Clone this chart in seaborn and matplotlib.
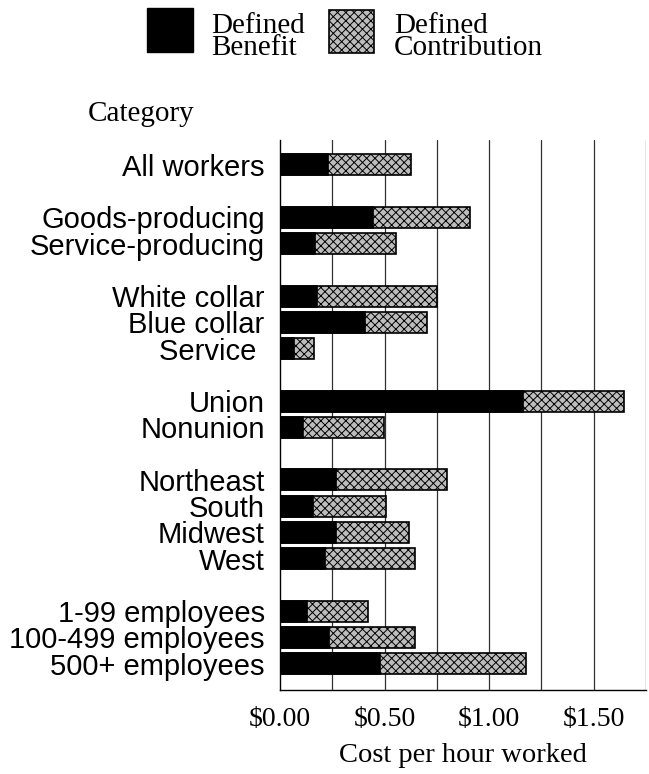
import numpy as np
import pandas as pd
import matplotlib
matplotlib.use("Agg")
import matplotlib.pyplot as plt
from matplotlib.patches import Rectangle
import seaborn as sns

# ---------------- data ----------------
categories = ["All workers",
              "Goods-producing", "Service-producing",
              "White collar", "Blue collar", "Service ",
              "Union", "Nonunion",
              "Northeast", "South", "Midwest", "West",
              "1-99 employees", "100-499 employees", "500+ employees"]
group_sizes = [1, 2, 3, 2, 4, 3]
defined_benefit = [0.23, 0.445, 0.165, 0.177, 0.405, 0.065, 1.163, 0.11,
                   0.27, 0.158, 0.27, 0.214, 0.129, 0.236, 0.478]
defined_contribution = [0.395, 0.462, 0.388, 0.576, 0.297, 0.096, 0.483, 0.388,
                        0.53, 0.349, 0.349, 0.431, 0.291, 0.411, 0.699]
x_ticks = [0.0, 0.5, 1.0, 1.5]
x_tick_labels = ["$0.00", "$0.50", "$1.00", "$1.50"]
grid_values = [0.25, 0.5, 0.75, 1.0, 1.25, 1.5, 1.75]

# positions with a blank slot between groups
positions = []
p = 0
for g in group_sizes:
    for _ in range(g):
        positions.append(p)
        p += 1
    p += 1

df = pd.DataFrame({
    "category": categories,
    "pos": positions,
    "db": defined_benefit,
    "dc": defined_contribution,
})
df["total"] = df["db"] + df["dc"]

# ---------------- style ----------------
sns.set_theme(style="white")
plt.rcParams["font.family"] = ["Liberation Serif", "DejaVu Serif"]
plt.rcParams["text.color"] = "black"
plt.rcParams["axes.labelcolor"] = "black"
plt.rcParams["xtick.color"] = "black"
plt.rcParams["ytick.color"] = "black"
plt.rcParams["hatch.linewidth"] = 0.7
plt.rcParams["hatch.color"] = "black"

fig = plt.figure(figsize=(6.49, 7.74), dpi=100)
ax = fig.add_axes([280 / 649, 1 - 690 / 774, 366 / 649, 550 / 774])

for gv in grid_values:
    ax.axvline(gv, color="#333333", lw=0.9, zorder=0)

dc_color = "#bdbdbd"
sns.barplot(data=df, x="total", y="pos", orient="h", native_scale=True,
            color=dc_color, edgecolor="black", linewidth=1.2, hatch="xxxx",
            saturation=1, ax=ax, zorder=2)
sns.barplot(data=df, x="db", y="pos", orient="h", native_scale=True,
            color="black", edgecolor="black", linewidth=1.2,
            saturation=1, ax=ax, zorder=3)

ax.set_xlim(0, 1.75)
ax.set_ylim(20.0, -0.95)
ax.set_xticks(x_ticks)
ax.set_xticklabels(x_tick_labels, fontsize=20)
ax.set_yticks(df["pos"])
ax.set_yticklabels(df["category"], fontsize=21,
                   family=["Liberation Sans", "DejaVu Sans"])
ax.tick_params(axis="both", length=0)
ax.tick_params(axis="y", pad=11)
ax.tick_params(axis="x", pad=12)
ax.set_ylabel("")
ax.set_xlabel("Cost per hour worked", fontsize=20.5, labelpad=8)

for s in ["top", "right"]:
    ax.spines[s].set_visible(False)
for s in ["left", "bottom"]:
    ax.spines[s].set_color("black")
    ax.spines[s].set_linewidth(1.0)

# "Category" heading
fig.text(141 / 649, 1 - 114 / 774, "Category", fontsize=21, ha="center", va="center")

# legend (drawn manually at top)
W, H = 649, 774
fig.patches.append(Rectangle((147 / W, 1 - 52 / H), 46 / W, 44 / H,
                             transform=fig.transFigure, facecolor="black",
                             edgecolor="black", lw=1))
fig.patches.append(Rectangle((329 / W, 1 - 53 / H), 45 / W, 43 / H,
                             transform=fig.transFigure, facecolor=dc_color,
                             edgecolor="black", lw=1.2, hatch="xxxx"))
fig.text(211 / W, 1 - 37 / H, "Defined\nBenefit", fontsize=21, ha="left",
         va="center", linespacing=0.84)
fig.text(394 / W, 1 - 37 / H, "Defined\nContribution", fontsize=21, ha="left",
         va="center", linespacing=0.84)

fig.savefig("out.png", dpi=100)
